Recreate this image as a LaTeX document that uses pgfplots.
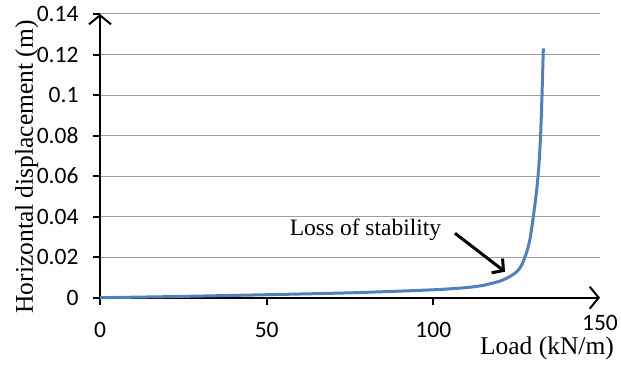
\documentclass[border=0pt]{standalone}
\usepackage{fontspec}
\setmainfont{Liberation Serif}
\newfontfamily\carlito{Carlito}
\usepackage{pgfplots}
\pgfplotsset{compat=1.18}
\usetikzlibrary{arrows.meta,calc}
\definecolor{xlblue}{HTML}{4F81BD}
\begin{document}
\begin{tikzpicture}
\begin{axis}[
  name=ax,
  scale only axis,
  width=500pt, height=283.7pt,
  xmin=0, xmax=150, ymin=0, ymax=0.14,
  axis lines=left,
  axis line style={line width=2pt, -{Straight Barb[length=9pt,width=22pt,line width=2pt]}},
  xtick={0,50,100}, extra x ticks={150}, extra x tick style={major tick length=0pt},
  ytick={0,0.02,0.04,0.06,0.08,0.1,0.12,0.14},
  yticklabels={0,0.02,0.04,0.06,0.08,0.1,0.12,0.14},
  xticklabels={0,50,100}, extra x tick labels={150},
  tick align=outside,
  major tick length=7pt,
  tick style={black, line width=2pt},
  tick label style={font=\carlito\fontsize{23.5}{23.5}\selectfont, text=black},
  xticklabel style={yshift=-14pt},
  yticklabel style={xshift=-11pt},
  ymajorgrids,
  major grid style={black!38, line width=1pt},
  xlabel={Load (kN/m)},
  xlabel style={font=\fontsize{25.5}{25.5}\selectfont, at={(rel axis cs:0.894,0)}, anchor=base, yshift=-57pt},
  ylabel={Horizontal displacement (m)},
  ylabel style={font=\fontsize{25.5}{25.5}\selectfont, at={(rel axis cs:-0.134,0.461)}, anchor=base},
  clip=false,
]
\addplot[xlblue, line width=3pt, smooth, tension=0.4] coordinates {
(0,0) (20,0.0005) (45,0.0013) (75,0.0024) (100,0.0039) (110,0.0050) (115,0.0061) (120,0.0082) (123,0.0105) (125,0.0128) (126.5,0.016) (128,0.0225) (129,0.029) (130,0.040) (131,0.053) (131.7,0.066) (132.2,0.081) (132.6,0.1) (133,0.123)
};
\node[font=\fontsize{23.5}{23.5}\selectfont, anchor=base] at (axis cs:79.65,0.0309) {Loss of stability};
\draw[line width=3pt, -{Straight Barb[length=8pt,width=18pt,line width=3pt]}] (axis cs:106.5,0.0318) -- (axis cs:121.5,0.0128);
\end{axis}
\pgfresetboundingbox
\path[use as bounding box] ($(ax.south west)+(-100pt,-68.3pt)$) rectangle ($(ax.north east)+(21pt,14pt)$);
\end{tikzpicture}
\end{document}
